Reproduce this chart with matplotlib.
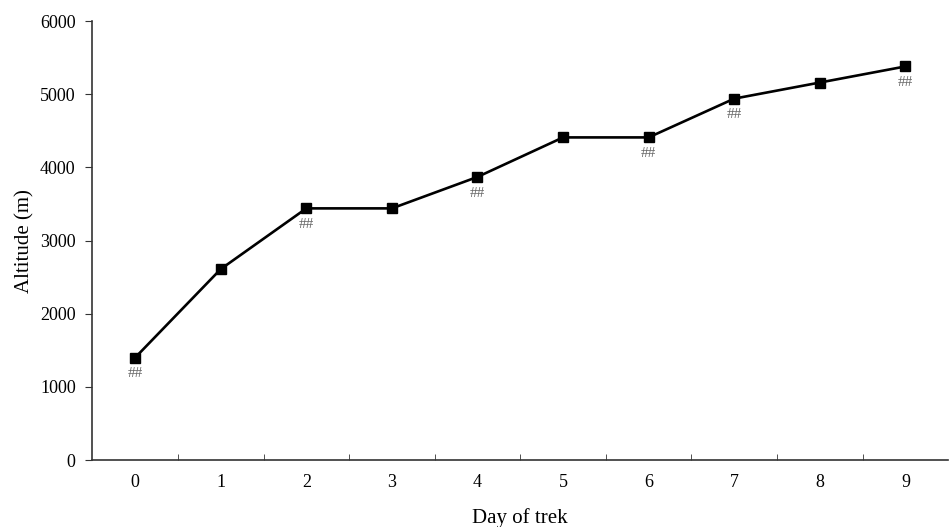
import matplotlib.pyplot as plt
import numpy as np

days = [0, 1, 2, 3, 4, 5, 6, 7, 8, 9]
altitude = [1400, 2610, 3440, 3440, 3870, 4410, 4410, 4940, 5160, 5380]
marked = [0, 2, 4, 6, 7, 9]  # days annotated with ##

plt.rcParams['font.family'] = ['Liberation Serif', 'DejaVu Serif']

fig = plt.figure(figsize=(9.52, 5.27), dpi=100)
ax = fig.add_axes([0.097, 0.127, 0.899, 0.833])

ax.plot(days, altitude, color='black', lw=1.9, marker='s', ms=7.5, zorder=3)
for d in marked:
    ax.annotate('##', (d, altitude[d]), xytext=(0, -7), textcoords='offset points',
                ha='center', va='top', fontsize=11, color='#666666')

ax.set_xlim(-0.5, 9.5)
ax.set_ylim(0, 6000)
ax.set_yticks(np.arange(0, 6001, 1000))
ax.set_xticks(days)
ax.set_xticks(np.arange(0.5, 9.5, 1), minor=True)
ax.tick_params(axis='x', which='major', length=0, labelsize=13, pad=10)
ax.tick_params(axis='x', which='minor', direction='in', length=4, color='#333333')
ax.tick_params(axis='y', direction='out', length=5, labelsize=13, color='#333333', pad=7)

for s in ['top', 'right']:
    ax.spines[s].set_visible(False)
for s in ['left', 'bottom']:
    ax.spines[s].set_color('#333333')
    ax.spines[s].set_linewidth(1.2)

ax.set_xlabel('Day of trek', fontsize=15, labelpad=12)
ax.set_ylabel('Altitude (m)', fontsize=15, labelpad=4)

plt.savefig('out.png', dpi=100)
